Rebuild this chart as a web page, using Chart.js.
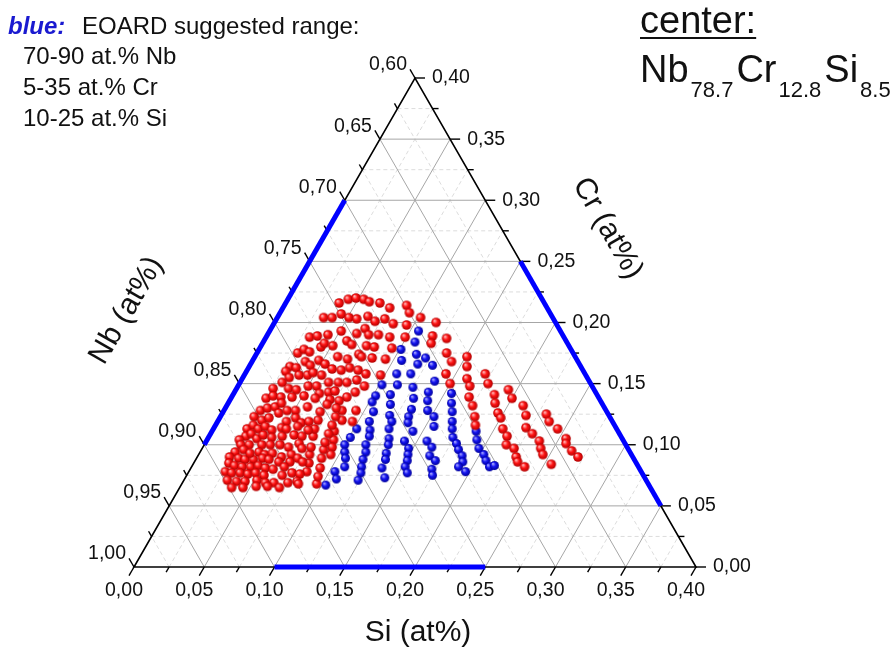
<!DOCTYPE html>
<html><head><meta charset="utf-8">
<script src="https://cdn.jsdelivr.net/npm/chart.js@4/dist/chart.umd.min.js"></script>
<style>html,body{margin:0;padding:0;background:#fff;overflow:hidden}canvas{display:block}</style>
</head><body>
<canvas id="c" width="896" height="648"></canvas>
<script>
// ---- data (at.%) ----
const redCr = [21.6,21.9,22.0,20.4,20.4,20.7,20.4,20.3,18.8,18.9,19.0,19.3,18.5,18.2,19.1,17.5,17.8,17.6,18.0,18.3,18.1,17.2,17.0,17.4,16.4,16.3,16.8,16.5,16.9,16.6,16.2,16.1,16.3,16.1,16.0,15.5,15.7,15.7,15.9,15.7,15.1,15.1,15.1,15.3,14.6,15.1,14.6,14.5,14.8,14.8,14.2,14.3,14.4,13.9,14.3,13.8,14.0,13.9,13.9,14.0,13.8,13.7,13.6,
21.9,21.7,21.6,21.2,21.4,20.8,20.5,20.1,20.3,19.9,19.8,20.4,20.0,19.5,19.0,19.0,18.8,18.8,18.9,18.7,18.3,18.1,18.0,17.9,17.5,16.8,17.2,17.1,17.0,15.8,15.7,15.8,15.0,14.8,
12.8,12.8,12.0,11.9,11.1,10.4,9.8,9.2,6.8,7.4,8.1,8.9,9.6,10.2,10.9,11.6,12.3,13.0,7.8,8.5,9.2,9.8,10.7,11.3,12.0,12.7,13.3,
12.3,12.8,13.0,13.1,12.6,12.8,12.8,13.1,12.0,12.2,11.9,12.2,11.8,11.9,11.3,11.6,11.3,11.5,11.2,11.4,11.5,11.2,10.7,10.9,10.5,10.8,10.6,10.7,10.8,10.7,10.4,10.0,10.0,10.0,10.0,10.0,9.8,10.1,9.4,9.6,9.4,9.2,9.3,9.0,9.2,9.0,8.9,8.8,8.8,8.9,8.6,8.6,8.9,8.5,8.3,8.2,8.2,8.3,8.1,8.0,8.2,7.8,7.7,7.7,7.6,7.7,7.5,7.5,7.7,7.6,7.1,7.0,7.0,7.1,6.9,6.9,6.9,7.0,6.5,6.5,6.6,6.5,6.8,6.6,
11.3,9.3,9.7,8.8,8.6,13.4,
17.2,16.4,15.4,14.8,13.9,13.2,12.3,11.6,15.8,15.0,14.1,13.4,12.6,12.2,11.3,10.7,10.0,9.7,9.0,8.6,8.2,14.5,13.8,13.2,12.4,11.4,10.9,10.3,9.7,9.2,8.4,12.5,11.9,11.3,10.5,10.1,9.5,9.0];
const redSi = [3.8,4.3,4.8,3.3,3.9,4.4,5.1,5.7,3.1,3.6,4.3,5.1,5.9,6.4,6.3,2.9,3.2,3.7,4.3,4.4,5.1,5.9,6.7,7.3,2.9,3.4,3.8,4.3,4.7,5.3,6.0,6.7,7.2,7.9,2.8,3.3,3.9,4.5,4.8,5.5,6.3,7.0,7.6,8.2,2.6,3.0,3.7,4.3,5.0,5.6,6.1,6.7,7.1,8.2,8.6,2.5,2.9,3.5,4.3,5.1,6.0,7.1,7.8,
5.4,5.9,6.7,7.6,8.7,9.2,6.4,7.1,7.7,8.5,9.5,10.2,11.5,6.7,7.2,7.9,8.8,9.9,11.8,12.9,12.0,7.5,8.1,9.4,13.5,14.2,7.6,8.4,9.4,8.6,9.7,14.3,15.0,9.0,
8.4,9.4,8.8,9.6,8.7,9.0,9.2,9.4,9.6,9.4,9.2,8.9,8.7,8.5,8.4,8.3,8.2,7.9,8.4,8.2,7.9,7.7,7.4,7.2,7.1,6.9,7.1,
2.4,2.6,3.0,3.5,4.0,4.5,5.1,5.8,3.1,3.5,4.9,5.4,6.0,6.5,2.4,2.7,3.2,3.6,4.2,4.8,5.9,6.8,2.6,2.9,3.5,3.8,4.5,5.2,6.0,6.6,2.3,2.6,3.2,4.1,4.7,5.4,6.1,6.7,2.5,3.0,4.2,4.7,5.2,6.0,6.6,2.3,3.0,3.5,4.1,4.7,6.0,6.8,7.2,2.5,3.0,3.6,4.2,4.7,5.3,5.9,6.6,2.6,3.1,3.7,4.3,4.8,5.5,6.8,7.4,8.0,3.1,3.8,4.4,5.2,5.9,6.5,7.5,8.1,3.7,4.5,5.4,7.1,8.3,6.2,
5.2,3.6,7.1,5.2,7.7,3.8,
15.1,15.5,16.0,16.5,16.9,17.5,18.1,18.5,17.1,17.7,18.6,19.0,19.6,20.0,20.6,21.2,21.5,22.2,22.7,23.0,23.7,19.4,20.0,21.1,21.7,22.2,22.9,23.7,24.1,24.5,25.5,23.1,23.6,24.5,25.5,25.7,26.4,27.1];
const blueCr = [11.3,10.6,10.0,9.4,8.9,8.2,7.8,7.2,6.7,14.9,14.0,13.5,12.7,11.9,11.2,10.7,10.0,9.4,8.8,8.2,7.7,7.1,17.8,16.9,15.8,14.9,14.1,13.3,12.4,11.9,11.3,10.5,10.0,9.3,8.8,8.1,7.3,19.3,18.4,17.4,16.6,15.8,14.7,13.8,12.9,12.3,11.8,11.1,10.3,9.7,9.2,8.7,8.2,7.7,17.1,16.5,15.2,14.3,13.6,12.8,12.3,11.5,10.3,9.8,9.1,8.7,8.0,7.5,14.2,13.4,12.7,11.9,11.3,10.6,10.1,9.6,9.1,8.6,8.2,7.8,11.1,10.4,9.7,9.2,8.7,8.2,8.3];
const blueSi = [10.2,10.1,10.0,10.3,10.6,10.9,10.4,10.8,10.3,10.2,10.2,10.2,10.7,10.8,11.2,11.4,11.5,11.8,11.9,12.1,12.3,12.4,10.1,10.6,10.8,11.3,11.2,11.6,12.0,12.4,12.5,12.9,13.1,13.3,13.5,13.6,14.2,10.6,10.8,11.4,11.9,11.8,12.5,13.0,13.3,13.4,13.6,14.3,14.1,14.7,14.9,15.1,15.2,15.6,12.2,13.0,13.8,13.8,14.1,14.5,15.2,15.6,15.7,16.3,16.5,17.1,17.2,17.5,15.5,15.9,16.3,16.7,17.0,17.4,17.9,18.3,18.8,19.1,19.0,19.7,18.8,19.2,19.7,20.3,20.7,21.2,21.5];

// ---- axes / ticks ----
const siTicks = [0.00,0.05,0.10,0.15,0.20,0.25,0.30,0.35,0.40];
const crTicks = [0.00,0.05,0.10,0.15,0.20,0.25,0.30,0.35,0.40];
const nbTicks = [1.00,0.95,0.90,0.85,0.80,0.75,0.70,0.65,0.60];
const siRange = [0.10,0.25];
const crRange = [0.05,0.25];
const nbRange = [0.70,0.90];
const legendLines = ['70-90 at.% Nb','5-35 at.% Cr','10-25 at.% Si'];

const FONT = '"Liberation Sans", Arial, sans-serif';
function fmt(v){ return v.toFixed(2).replace('.', ','); }

function sphere(r, hi, mid, lo){
  const s = Math.ceil(2*r+2), cv = document.createElement('canvas');
  cv.width = cv.height = s;
  const g = cv.getContext('2d'), c = s/2;
  const grd = g.createRadialGradient(c - r*0.35, c - r*0.4, r*0.1, c, c, r);
  grd.addColorStop(0, hi); grd.addColorStop(0.45, mid); grd.addColorStop(1, lo);
  g.fillStyle = grd; g.beginPath(); g.arc(c, c, r, 0, Math.PI*2); g.fill();
  return cv;
}
const redBall = sphere(4.8, '#ffb4b4', '#ff1414', '#b00000');
const blueBall = sphere(4.5, '#a0a0ff', '#1414f0', '#00009a');

function toXY(cr, si){ return cr.map((c,i)=>({x:(si[i] + c/2)/100, y:c/100})); }

const ternary = {
  id: 'ternary',
  beforeDatasetsDraw(chart){
    const ctx = chart.ctx, xs = chart.scales.x, ys = chart.scales.y;
    const P = (si, cr) => [xs.getPixelForValue(si + cr/2), ys.getPixelForValue(cr)];
    const line = (a, b) => { ctx.beginPath(); ctx.moveTo(a[0], a[1]); ctx.lineTo(b[0], b[1]); ctx.stroke(); };
    ctx.save();
    // minor grid
    ctx.strokeStyle = '#dcdcdc'; ctx.lineWidth = 1; ctx.setLineDash([4,3]);
    for (let k = 1; k < 16; k += 2){
      const t = k*0.025;
      line(P(0,t), P(0.4-t,t));
      line(P(t,0), P(t,0.4-t));
      line(P(t,0), P(0,t));
    }
    ctx.setLineDash([]);
    ctx.strokeStyle = '#a6a6a6';
    for (let k = 1; k < 8; k++){
      const t = k*0.05;
      line(P(0,t), P(0.4-t,t));
      line(P(t,0), P(t,0.4-t));
      line(P(t,0), P(0,t));
    }
    // triangle
    const A = P(0,0), B = P(0.4,0), C = P(0,0.4);
    ctx.strokeStyle = '#000'; ctx.lineWidth = 1.6;
    ctx.beginPath(); ctx.moveTo(A[0],A[1]); ctx.lineTo(B[0],B[1]); ctx.lineTo(C[0],C[1]); ctx.closePath(); ctx.stroke();
    // ticks
    const c60 = 0.5, s60 = Math.sqrt(3)/2;
    ctx.lineWidth = 1.4;
    for (let k = 0; k <= 16; k++){
      const t = k*0.025, L = (k % 2 === 0) ? 10 : 6;
      let p = P(t,0); line(p, [p[0]-c60*L, p[1]+s60*L]);
      p = P(0.4-t,t); line(p, [p[0]+L, p[1]]);
      p = P(0,t); line(p, [p[0]-c60*L, p[1]-s60*L]);
    }
    // EOARD range segments
    ctx.strokeStyle = '#0000ff'; ctx.lineWidth = 5; ctx.lineCap = 'butt';
    line(P(siRange[0],0), P(siRange[1],0));
    line(P(0.4-crRange[0],crRange[0]), P(0.4-crRange[1],crRange[1]));
    line(P(0,1-nbRange[0]), P(0,1-nbRange[1]));
    // tick labels
    ctx.fillStyle = '#111'; ctx.font = '19.5px ' + FONT; ctx.textBaseline = 'middle';
    ctx.textAlign = 'center';
    siTicks.forEach(v => { const p = P(v,0); ctx.fillText(fmt(v), p[0]-10, p[1]+24); });
    ctx.textAlign = 'left';
    crTicks.forEach(v => { const p = P(0.4-v,v); ctx.fillText(fmt(v), p[0]+17, p[1]); });
    ctx.textAlign = 'right';
    nbTicks.forEach(v => { const p = P(0,1-v); ctx.fillText(fmt(v), p[0]-8, p[1]-13); });
    // axis titles
    ctx.font = '30px ' + FONT; ctx.textAlign = 'center'; ctx.fillStyle = '#111';
    const bm = P(0.2,0);
    ctx.fillText('Si (at%)', bm[0]+3, bm[1]+66);
    const lm = P(0,0.2);
    ctx.save(); ctx.translate(lm[0]-148, lm[1]-12); ctx.rotate(-Math.PI/3); ctx.fillText('Nb (at%)', 0, 0); ctx.restore();
    const rm = P(0.2,0.2);
    ctx.save(); ctx.translate(rm[0]+52, rm[1]-94); ctx.rotate(Math.PI/3); ctx.fillText('Cr (at%)', 0, 0); ctx.restore();
    // legend text (top-left)
    ctx.textBaseline = 'alphabetic'; ctx.textAlign = 'left';
    ctx.font = 'italic bold 24px ' + FONT; ctx.fillStyle = '#1a1ad0';
    ctx.fillText('blue:', 8, 34);
    ctx.font = '24px ' + FONT; ctx.fillStyle = '#111';
    ctx.fillText('EOARD suggested range:', 82, 34);
    legendLines.forEach((s,i) => ctx.fillText(s, 23, 64 + i*31));
    // center composition (top-right)
    ctx.font = '38px ' + FONT;
    ctx.fillText('center:', 640, 33);
    const w = ctx.measureText('center:').width;
    ctx.fillRect(640, 37, w, 2);
    let x = 640;
    const parts = [['Nb','78.7'],['Cr','12.8'],['Si','8.5']];
    parts.forEach(([el, sub]) => {
      ctx.font = '38px ' + FONT; ctx.fillText(el, x, 82); x += ctx.measureText(el).width + 2;
      ctx.font = '22px ' + FONT; ctx.fillText(sub, x, 97); x += ctx.measureText(sub).width + 3;
    });
    ctx.restore();
  }
};

new Chart(document.getElementById('c'), {
  type: 'scatter',
  data: { datasets: [
    { label: 'outside range', data: toXY(redCr, redSi), pointStyle: redBall, pointRadius: 4.8, pointHoverRadius: 5.5, backgroundColor: '#ff0000', borderColor: '#ff0000' },
    { label: 'EOARD range', data: toXY(blueCr, blueSi), pointStyle: blueBall, pointRadius: 4.5, pointHoverRadius: 5.5, backgroundColor: '#0000ff', borderColor: '#0000ff' }
  ]},
  options: {
    responsive: false, animation: false, devicePixelRatio: 1,
    layout: { padding: { left: 134, right: 200, top: 78, bottom: 81 } },
    scales: {
      x: { type: 'linear', min: 0, max: 0.4, display: false },
      y: { type: 'linear', min: 0, max: 0.4, display: false }
    },
    plugins: { legend: { display: false }, tooltip: { enabled: true } }
  },
  plugins: [ternary]
});
</script>
</body></html>
